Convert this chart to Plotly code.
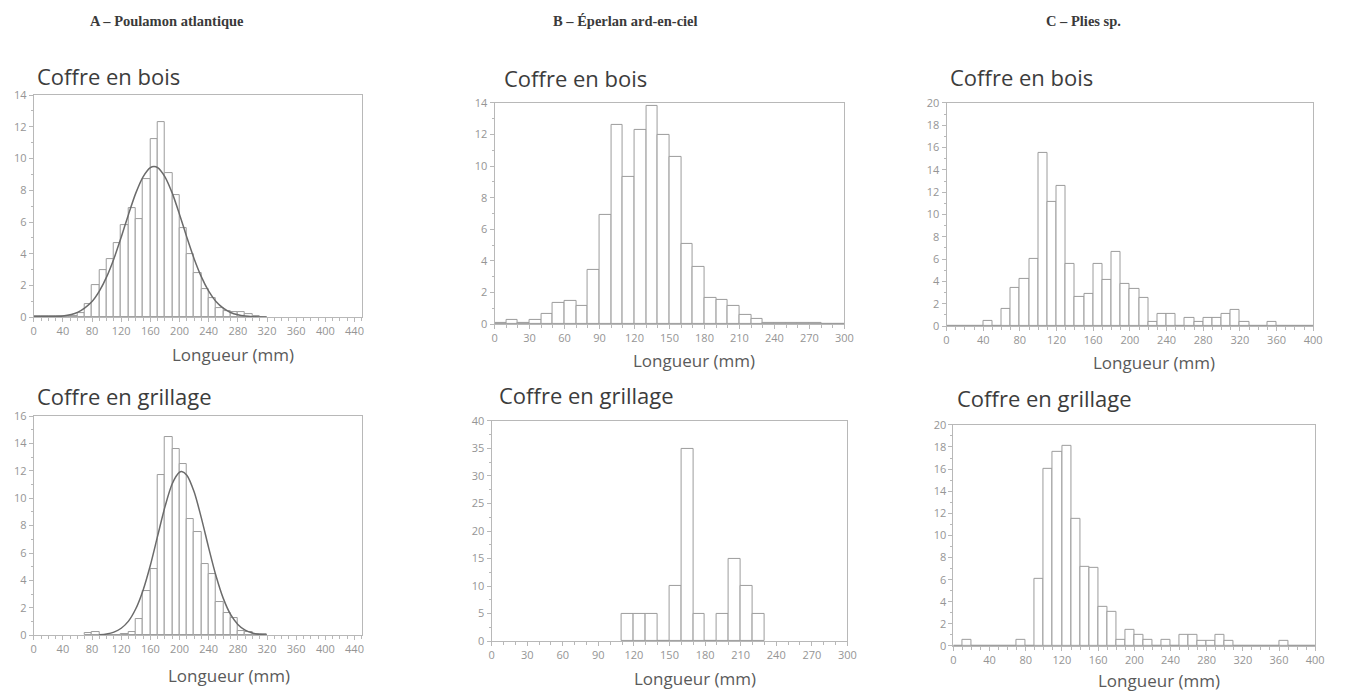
import plotly.graph_objects as go

# ---------------- data ----------------
BIN = 10

# A - Poulamon atlantique
a_bois_start = list(range(0, 320, 10))
a_bois_vals = [0.1, 0.1, 0.05, 0.05, 0.05, 0.1, 0.25, 0.8, 2.0, 3.0, 3.65, 4.7, 5.8, 6.9, 6.2, 8.7,
               11.2, 12.3, 9.1, 7.7, 5.6, 4.0, 2.8, 1.8, 1.2, 0.6, 0.4, 0.35, 0.3, 0.2, 0.05, 0.02]
a_bois_curve_x = [0, 20, 40, 60, 80, 90, 100, 110, 120, 130, 140, 150, 160, 165, 170, 180, 190, 200,
                  210, 220, 230, 240, 250, 260, 270, 280, 290, 300, 320]
a_bois_curve_y = [0.05, 0.05, 0.07, 0.3, 0.99, 1.64, 2.54, 3.69, 5.04, 6.48, 7.82, 8.85, 9.43, 9.5,
                  9.43, 8.85, 7.82, 6.48, 5.04, 3.69, 2.54, 1.64, 0.99, 0.57, 0.3, 0.15, 0.07, 0.03, 0.0]

a_gril_start = list(range(70, 320, 10))
a_gril_vals = [0.15, 0.2, 0.05, 0.05, 0.05, 0.1, 0.25, 1.2, 3.25, 4.8, 11.7, 14.5, 13.6, 12.5, 8.5,
               7.5, 5.2, 4.5, 2.4, 1.6, 1.25, 0.3, 0.2, 0.1, 0.1]
a_gril_curve_x = [90, 100, 110, 120, 130, 140, 150, 160, 170, 180, 190, 200, 203, 210, 220, 230,
                  240, 250, 260, 270, 280, 290, 300, 310, 320]
a_gril_curve_y = [0.03, 0.09, 0.23, 0.51, 1.03, 1.93, 3.29, 5.11, 7.25, 9.37, 11.06, 11.9, 11.95,
                  11.68, 10.47, 8.55, 6.38, 4.34, 2.69, 1.52, 0.79, 0.37, 0.16, 0.06, 0.02]

# B - Eperlan
b_bois_start = list(range(0, 300, 10))
b_bois_vals = [0.05, 0.25, 0.05, 0.25, 0.65, 1.35, 1.45, 1.15, 3.4, 6.9, 12.6, 9.3, 12.3, 13.8, 12.0,
               10.6, 5.05, 3.6, 1.65, 1.5, 1.15, 0.6, 0.35, 0.1, 0.08, 0.05, 0.05, 0.05, 0.02, 0.0]

b_gril_start = list(range(110, 230, 10))
b_gril_vals = [5, 5, 5, 0, 10, 35, 5, 0, 5, 15, 10, 5]

# C - Plies sp.
c_bois_start = list(range(0, 400, 10))
c_bois_vals = [0, 0, 0, 0, 0.5, 0, 1.5, 3.45, 4.2, 6.0, 15.5, 11.15, 12.55, 5.6, 2.65, 2.9, 5.55,
               4.1, 6.6, 3.75, 3.35, 2.55, 0.35, 1.1, 1.1, 0, 0.7, 0.4, 0.7, 0.7, 1.1, 1.4, 0.35,
               0, 0, 0.4, 0, 0, 0, 0]

c_gril_start = list(range(0, 400, 10))
c_gril_vals = [0, 0.6, 0, 0, 0, 0, 0, 0.6, 0, 6.1, 16.0, 17.6, 18.1, 11.5, 7.2, 7.1, 3.55, 3.1,
               0.55, 1.45, 1.0, 0.55, 0, 0.55, 0, 1.0, 1.0, 0.5, 0.5, 1.0, 0.5, 0, 0, 0, 0, 0,
               0.45, 0, 0, 0]

species_titles = ["A – Poulamon atlantique", "B – Éperlan ard-en-ciel", "C – Plies sp."]
panel_titles = ["Coffre en bois", "Coffre en grillage"]
x_title = "Longueur (mm)"

# ---------------- layout geometry (pixels) ----------------
W, H = 1346, 698
SANS = "Open Sans"
BAR_LINE = "#9c9c9c"
AX = "#b8b8b8"
TICKFONT = dict(family=SANS, size=11, color="#959595")

panels = [
    dict(n=1, x=(31, 362), y=(316, 89), xr=(0, 450), xd=40, yr=(0, 14), yd=2, ym=1),
    dict(n=2, x=(31, 362), y=(641, 417), xr=(0, 450), xd=40, yr=(0, 16), yd=2, ym=1),
    dict(n=3, x=(496, 849), y=(323, 97), xr=(0, 300), xd=30, yr=(0, 14), yd=2, ym=1),
    dict(n=4, x=(493, 852), y=(647, 422), xr=(0, 300), xd=30, yr=(0, 40), yd=5, ym=2.5),
    dict(n=5, x=(952, 1322), y=(325, 97), xr=(0, 400), xd=40, yr=(0, 20), yd=2, ym=1),
    dict(n=6, x=(959, 1324), y=(652, 426), xr=(0, 400), xd=40, yr=(0, 20), yd=2, ym=1),
]

series = {
    1: (a_bois_start, a_bois_vals, a_bois_curve_x, a_bois_curve_y),
    2: (a_gril_start, a_gril_vals, a_gril_curve_x, a_gril_curve_y),
    3: (b_bois_start, b_bois_vals, None, None),
    4: (b_gril_start, b_gril_vals, None, None),
    5: (c_bois_start, c_bois_vals, None, None),
    6: (c_gril_start, c_gril_vals, None, None),
}

fig = go.Figure()
layout = dict(
    width=W, height=H, margin=dict(l=0, r=0, t=0, b=0),
    paper_bgcolor="white", plot_bgcolor="white", showlegend=False,
    bargap=0, annotations=[],
)

for p in panels:
    n = p["n"]
    sfx = "" if n == 1 else str(n)
    starts, vals, cx, cy = series[n]
    fig.add_trace(go.Bar(
        x=[s + BIN / 2 for s in starts], y=vals, width=BIN,
        marker=dict(color="white", line=dict(color=BAR_LINE, width=1)),
        xaxis="x" + sfx, yaxis="y" + sfx, hoverinfo="skip",
    ))
    if cx is not None:
        fig.add_trace(go.Scatter(
            x=cx, y=cy, mode="lines",
            line=dict(color="#6b6b6b", width=1.5, shape="spline", smoothing=0.8),
            xaxis="x" + sfx, yaxis="y" + sfx, hoverinfo="skip",
        ))
    x0, x1 = p["x"]
    yb, yt = p["y"]
    layout["xaxis" + sfx] = dict(
        domain=[x0 / W, x1 / W], range=list(p["xr"]), anchor="y" + sfx,
        showline=True, linecolor=AX, linewidth=1, mirror=True,
        ticks="outside", ticklen=4, tickcolor=AX, tick0=0, dtick=p["xd"],
        tickfont=TICKFONT, showgrid=False, zeroline=False,
        minor=dict(ticks="outside", ticklen=3, tickcolor=AX, dtick=10, showgrid=False),
    )
    layout["yaxis" + sfx] = dict(
        domain=[1 - yb / H, 1 - yt / H], range=list(p["yr"]), anchor="x" + sfx,
        showline=True, linecolor=AX, linewidth=1, mirror=True,
        ticks="outside", ticklen=4, tickcolor=AX, tick0=0, dtick=p["yd"],
        tickfont=TICKFONT, showgrid=False, zeroline=False,
        minor=dict(ticks="outside", ticklen=2, tickcolor=AX, dtick=p["ym"], showgrid=False),
    )

def ann(text, x, y, size, color, family=SANS, xanchor="left"):
    layout["annotations"].append(dict(
        text=text, x=x / W, y=1 - y / H, xref="paper", yref="paper",
        xanchor=xanchor, yanchor="middle", showarrow=False,
        font=dict(family=family, size=size, color=color),
    ))

# species headers
for t, cx in zip(species_titles, [165, 628, 1090]):
    ann("<b>" + t + "</b>", cx, 13, 14.5, "#3a3a3a", family="Liberation Serif", xanchor="center")

# panel sub-titles
ann(panel_titles[0], 32, 70, 22, "#3c3c3c")
ann(panel_titles[1], 32, 397, 22, "#3c3c3c")
ann(panel_titles[0], 503, 72, 22, "#3c3c3c")
ann(panel_titles[1], 498, 396, 22, "#3c3c3c")
ann(panel_titles[0], 953, 71, 22, "#3c3c3c")
ann(panel_titles[1], 961, 399, 22, "#3c3c3c")

# x-axis titles
for cx, cy in [(232, 354), (228, 682), (697, 360), (698, 685), (1161, 362), (1166, 687)]:
    ann(x_title, cx, cy, 17, "#5a5a5a", xanchor="center")

fig.update_layout(**layout)
fig.write_html("out.html")
